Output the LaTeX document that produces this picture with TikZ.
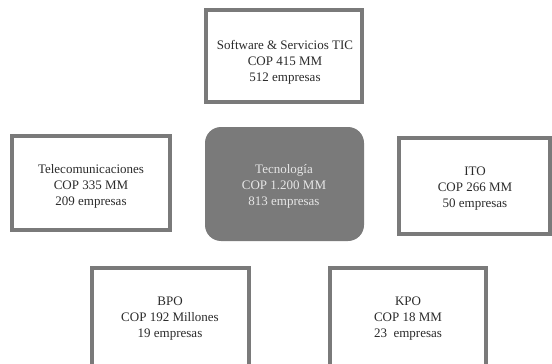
\documentclass[tikz,border=0pt]{standalone}
\usepackage{fontspec}
\setmainfont{Liberation Serif}
\definecolor{bordergray}{HTML}{7A7A7A}
\definecolor{txt}{HTML}{2B2B2B}
\definecolor{ctxt}{HTML}{E6E6E6}
\begin{document}
\begin{tikzpicture}[x=1pt,y=-1pt,
  boxstyle/.style={draw=bordergray,line width=4pt,fill=white},
  centerstyle/.style={fill=bordergray,rounded corners=16pt},
  labelstyle/.style={align=center,text=txt,font=\fontsize{13}{16}\selectfont},
  clabelstyle/.style={align=center,text=ctxt,font=\fontsize{13}{16}\selectfont}]
\useasboundingbox (0,0) rectangle (552,364);
\draw[boxstyle] (206,10) rectangle (362,102);
\node[labelstyle] (sw) at (285,62) {Software \& Servicios TIC\\COP 415 MM\\512 empresas};
\draw[boxstyle] (12,136) rectangle (170,230);
\node[labelstyle] (tel) at (91,186) {Telecomunicaciones\\COP 335 MM\\209 empresas};
\fill[centerstyle] (205,127) rectangle (364,241);
\node[clabelstyle] (tec) at (284,186) {Tecnología\\COP 1.200 MM\\813 empresas};
\draw[boxstyle] (399,138) rectangle (550,234);
\node[labelstyle] (ito) at (475,189) {ITO\\COP 266 MM\\50 empresas};
\draw[boxstyle] (92,268) rectangle (249,372);
\node[labelstyle] (bpo) at (170,319) {BPO\\COP 192 Millones\\19 empresas};
\draw[boxstyle] (330,268) rectangle (486,372);
\node[labelstyle] (kpo) at (408,319) {KPO\\COP 18 MM\\23~~empresas};
\end{tikzpicture}
\end{document}
